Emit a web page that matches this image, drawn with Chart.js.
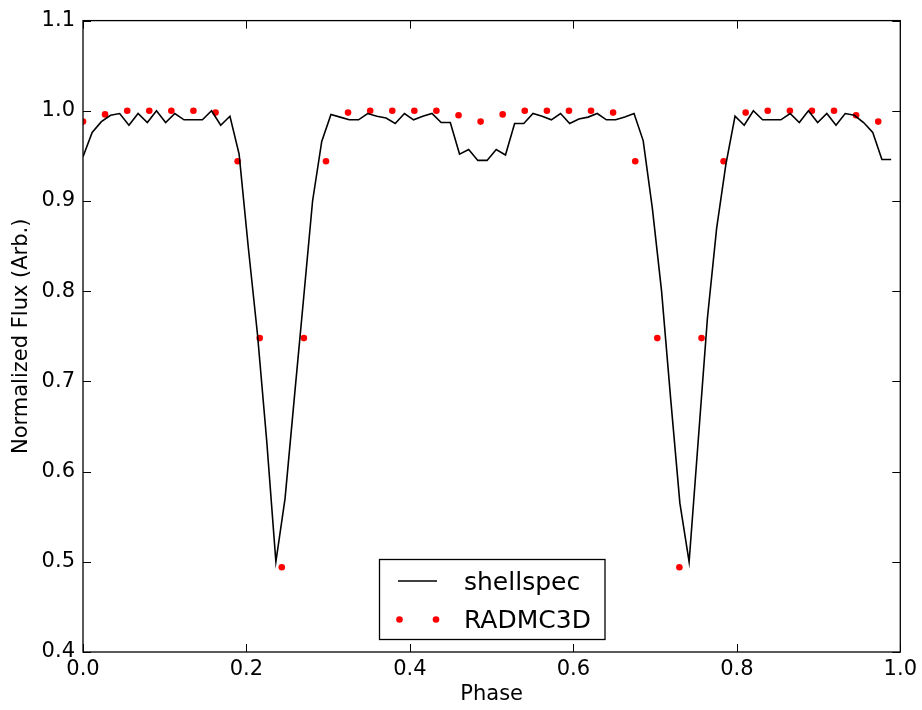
<!DOCTYPE html>
<html>
<head>
<meta charset="utf-8">
<script src="https://cdn.jsdelivr.net/npm/chart.js@4"></script>
<style>
html,body{margin:0;padding:0;background:#fff;}
#wrap{width:922px;height:710px;position:relative;}
</style>
</head>
<body>
<div id="wrap"><canvas id="c" width="922" height="710"></canvas></div>
<script>
// ---- data ----
const shellPhase = [0,0.0112,0.0225,0.0337,0.0449,0.0562,0.0674,0.0787,0.0899,0.1011,
0.1124,0.1236,0.1348,0.1461,0.1573,0.1685,0.1798,0.1910,0.2022,0.2135,
0.2247,0.2360,0.2472,0.2584,0.2697,0.2809,0.2921,0.3034,0.3146,0.3258,
0.3371,0.3483,0.3596,0.3708,0.3820,0.3933,0.4045,0.4157,0.4270,0.4382,
0.4494,0.4607,0.4719,0.4831,0.4944,0.5056,0.5169,0.5281,0.5393,0.5506,
0.5618,0.5730,0.5843,0.5955,0.6067,0.6180,0.6292,0.6404,0.6517,0.6629,
0.6742,0.6854,0.6966,0.7079,0.7191,0.7303,0.7416,0.7528,0.7640,0.7753,
0.7865,0.7978,0.8090,0.8202,0.8315,0.8427,0.8539,0.8652,0.8764,0.8876,
0.8989,0.9101,0.9213,0.9326,0.9438,0.9551,0.9663,0.9775,0.9888];
const shellFlux = [0.949,0.976,0.988,0.995,0.997,0.984,0.997,0.987,1.000,0.987,
0.997,0.990,0.990,0.990,1.000,0.984,0.994,0.952,0.849,0.752,
0.635,0.500,0.570,0.680,0.790,0.900,0.966,0.996,0.993,0.990,
0.990,0.997,0.994,0.992,0.986,0.997,0.990,0.994,0.997,0.987,
0.987,0.952,0.957,0.945,0.945,0.957,0.951,0.986,0.986,0.997,
0.994,0.990,0.997,0.986,0.991,0.993,0.997,0.990,0.990,0.993,
0.997,0.967,0.892,0.800,0.680,0.565,0.500,0.635,0.770,0.870,
0.940,0.994,0.984,1.000,0.990,0.990,0.990,0.997,0.987,1.000,
0.987,0.997,0.984,0.997,0.995,0.987,0.976,0.946,0.946];
const radPhase = [0,0.0270,0.0541,0.0811,0.1081,0.1351,0.1622,0.1892,0.2162,0.2432,
0.2703,0.2973,0.3243,0.3514,0.3784,0.4054,0.4324,0.4595,0.4865,0.5135,
0.5405,0.5676,0.5946,0.6216,0.6486,0.6757,0.7027,0.7297,0.7568,0.7838,
0.8108,0.8378,0.8649,0.8919,0.9189,0.9459,0.9730];
const radFlux = [0.988,0.996,1.0,1.0,1.0,1.0,0.998,0.944,0.748,0.494,
0.748,0.944,0.998,1.0,1.0,1.0,1.0,0.995,0.988,0.996,
1.0,1.0,1.0,1.0,0.998,0.944,0.748,0.494,0.748,0.944,
0.998,1.0,1.0,1.0,1.0,0.995,0.988];
const xTicks = [0.0,0.2,0.4,0.6,0.8,1.0];
const yTicks = [0.4,0.5,0.6,0.7,0.8,0.9,1.0,1.1];
const seriesNames = ['shellspec','RADMC3D'];
const xTitle = 'Phase';
const yTitle = 'Normalized Flux (Arb.)';

const FONT = "'DejaVu Sans', 'Liberation Sans', sans-serif";

const framePlugin = {
  id: 'frame',
  afterDatasetsDraw(chart) {
    const ctx = chart.ctx;
    const a = chart.chartArea;
    const xs = chart.scales.x, ys = chart.scales.y;
    ctx.save();
    // legend
    const bx = 379.5, by = 559.5, bw = 225.5, bh = 80;
    ctx.fillStyle = '#fff';
    ctx.fillRect(bx, by, bw, bh);
    ctx.strokeStyle = '#000';
    ctx.lineWidth = 1.3;
    ctx.strokeRect(bx, by, bw, bh);
    ctx.beginPath();
    ctx.moveTo(398, 581); ctx.lineTo(437, 581);
    ctx.lineWidth = 1.6; ctx.stroke();
    ctx.fillStyle = '#ff0000';
    [399.5, 436].forEach(px => { ctx.beginPath(); ctx.arc(px, 619.5, 3.3, 0, Math.PI*2); ctx.fill(); });
    ctx.fillStyle = '#000';
    ctx.font = '25px ' + FONT;
    ctx.textBaseline = 'alphabetic';
    ctx.textAlign = 'left';
    ctx.fillText(seriesNames[0], 464, 589.5);
    ctx.fillText(seriesNames[1], 464, 627.5);
    ctx.restore();
  },
  afterDraw(chart) {
    const ctx = chart.ctx;
    const a = chart.chartArea;
    const xs = chart.scales.x, ys = chart.scales.y;
    ctx.save();
    ctx.strokeStyle = '#000';
    ctx.lineWidth = 1;
    const L = 8;
    ctx.beginPath();
    xTicks.forEach(v => {
      const px = Math.round(xs.getPixelForValue(v)) + 0.5;
      ctx.moveTo(px, a.bottom); ctx.lineTo(px, a.bottom - L);
      ctx.moveTo(px, a.top); ctx.lineTo(px, a.top + L);
    });
    yTicks.forEach(v => {
      const py = Math.round(ys.getPixelForValue(v)) + 0.5;
      ctx.moveTo(a.left, py); ctx.lineTo(a.left + L, py);
      ctx.moveTo(a.right, py); ctx.lineTo(a.right - L, py);
    });
    ctx.stroke();
    ctx.lineWidth = 1.3;
    ctx.strokeRect(a.left, a.top, a.right - a.left, a.bottom - a.top);
    ctx.restore();
  }
};

new Chart(document.getElementById('c'), {
  type: 'scatter',
  data: {
    datasets: [
      {
        label: seriesNames[0],
        data: shellPhase.map((p, i) => ({x: p, y: shellFlux[i]})),
        showLine: true,
        borderColor: '#000',
        borderWidth: 1.6,
        pointRadius: 0,
        pointHoverRadius: 0,
        tension: 0,
        clip: 0
      },
      {
        label: seriesNames[1],
        data: radPhase.map((p, i) => ({x: p, y: radFlux[i]})),
        showLine: false,
        backgroundColor: '#ff0000',
        borderColor: '#ff0000',
        borderWidth: 0,
        pointRadius: 3.3,
        clip: 0
      }
    ]
  },
  options: {
    responsive: false,
    animation: false,
    devicePixelRatio: 1,
    layout: {padding: {top: 18, right: 20, left: 0, bottom: 0}},
    plugins: {legend: {display: false}, tooltip: {enabled: false}},
    scales: {
      x: {
        type: 'linear', min: 0, max: 1,
        afterFit(s) { s.height = 58; },
        afterBuildTicks(s) { s.ticks = xTicks.map(v => ({value: v})); },
        grid: {display: false, drawTicks: false},
        border: {display: false},
        ticks: {
          padding: 5, color: '#000', maxRotation: 0,
          font: {family: FONT, size: 21},
          callback: v => Number(v).toFixed(1)
        },
        title: {display: true, text: xTitle, color: '#000', font: {family: FONT, size: 21}, padding: {top: 0, bottom: 3}}
      },
      y: {
        type: 'linear', min: 0.4, max: 1.1,
        afterFit(s) { s.width = 83; },
        afterBuildTicks(s) { s.ticks = yTicks.map(v => ({value: v})); },
        grid: {display: false, drawTicks: false},
        border: {display: false},
        ticks: {
          padding: 8, color: '#000',
          font: {family: FONT, size: 21},
          callback: v => Number(v).toFixed(1)
        },
        title: {display: true, text: yTitle, color: '#000', font: {family: FONT, size: 21}, padding: {top: 9, bottom: 0}}
      }
    }
  },
  plugins: [framePlugin]
});
</script>
</body>
</html>
